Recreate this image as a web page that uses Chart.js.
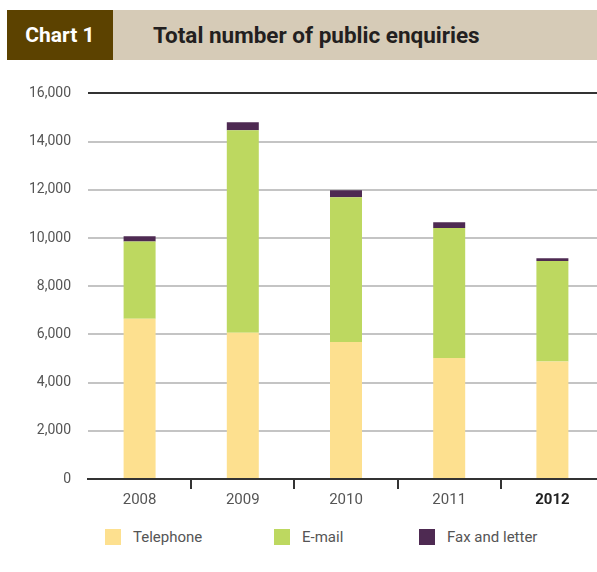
<!DOCTYPE html>
<html lang="en">
<head>
  <meta charset="UTF-8" />
  <title>Chart 1 - Total number of public enquiries</title>
  <script src="https://cdn.jsdelivr.net/npm/chart.js"></script>
  <style>
    * { box-sizing: border-box; margin: 0; padding: 0; }
    body { width: 597px; height: 572px; overflow: hidden; background: #fff; position: relative; font-family: Roboto, Arial, sans-serif; }
    .header { position: absolute; top: 10px; left: 7px; width: 590px; height: 50px; background: #d6cbb7; display: flex; align-items: center; }
    .header .num { width: 106px; height: 100%; background: #5c4200; color: #fff; font-weight: bold; font-size: 21px; display: flex; align-items: center; justify-content: center; }
    .header .title { margin-left: 40px; font-weight: bold; font-size: 22.5px; color: #231f20; }
    .chart-wrap { position: absolute; top: 68px; left: 0; width: 604px; height: 442px; }
    .legend { position: absolute; top: 529px; left: 0; width: 597px; height: 16px; font-size: 15px; color: #555; }
    .legend span { position: absolute; top: 0; line-height: 16px; }
    .legend i { position: absolute; top: 0; width: 16px; height: 16px; }
  </style>
</head>
<body>
  <div class="header">
    <div class="num">Chart 1</div>
    <div class="title">Total number of public enquiries</div>
  </div>

  <div class="chart-wrap"><canvas id="chart"></canvas></div>

  <div class="legend">
    <i style="left:105px;background:#fde08f"></i><span style="left:133px">Telephone</span>
    <i style="left:274px;background:#bdd860"></i><span style="left:302px">E-mail</span>
    <i style="left:419px;background:#4e2a52"></i><span style="left:447px">Fax and letter</span>
  </div>

  <script>
    // data
    const years = ['2008', '2009', '2010', '2011', '2012'];
    const telephone = [6650, 6070, 5680, 5020, 4880];
    const email = [3200, 8400, 6010, 5390, 4170];
    const faxLetter = [220, 330, 290, 240, 110];
    const yTicks = [0, 2000, 4000, 6000, 8000, 10000, 12000, 14000, 16000];

    const colors = ['#fde08f', '#bdd860', '#4e2a52'];

    new Chart(document.getElementById('chart'), {
      type: 'bar',
      data: {
        labels: years,
        datasets: [
          { label: 'Telephone', data: telephone, backgroundColor: colors[0] },
          { label: 'E-mail', data: email, backgroundColor: colors[1] },
          { label: 'Fax and letter', data: faxLetter, backgroundColor: colors[2] }
        ]
      },
      options: {
        responsive: true,
        maintainAspectRatio: false,
        animation: false,
        layout: { padding: { top: 19, right: 0, left: 0, bottom: 0 } },
        plugins: { legend: { display: false }, tooltip: { enabled: false } },
        datasets: { bar: { categoryPercentage: 1, barPercentage: 0.31 } },
        scales: {
          x: {
            stacked: true,
            afterFit: (s) => { s.height = 31; },
            border: { display: true, color: '#333', width: 2 },
            grid: {
              offset: true,
              drawOnChartArea: false,
              tickLength: 10,
              lineWidth: 2,
              color: (ctx) => ctx.index === 0 ? 'rgba(0,0,0,0)' : '#333'
            },
            ticks: {
              padding: 2,
              color: (ctx) => ctx.index === 4 ? '#222' : '#555',
              font: (ctx) => ({ family: 'Roboto', size: 15, weight: ctx.index === 4 ? 'bold' : 'normal' })
            }
          },
          y: {
            stacked: true,
            min: 0,
            max: 16000,
            afterFit: (s) => { s.width = 88; },
            afterBuildTicks: (s) => { s.ticks = yTicks.map(v => ({ value: v })); },
            border: { display: false },
            grid: {
              drawTicks: false,
              lineWidth: 2,
              color: (ctx) => (ctx.tick.value === 0 || ctx.tick.value === 16000) ? '#333' : '#c4c4c4'
            },
            ticks: {
              padding: 17,
              color: '#555',
              font: { family: 'Roboto', size: 14 },
              callback: (v) => v.toLocaleString('en-US')
            }
          }
        }
      }
    });
  </script>
</body>
</html>
